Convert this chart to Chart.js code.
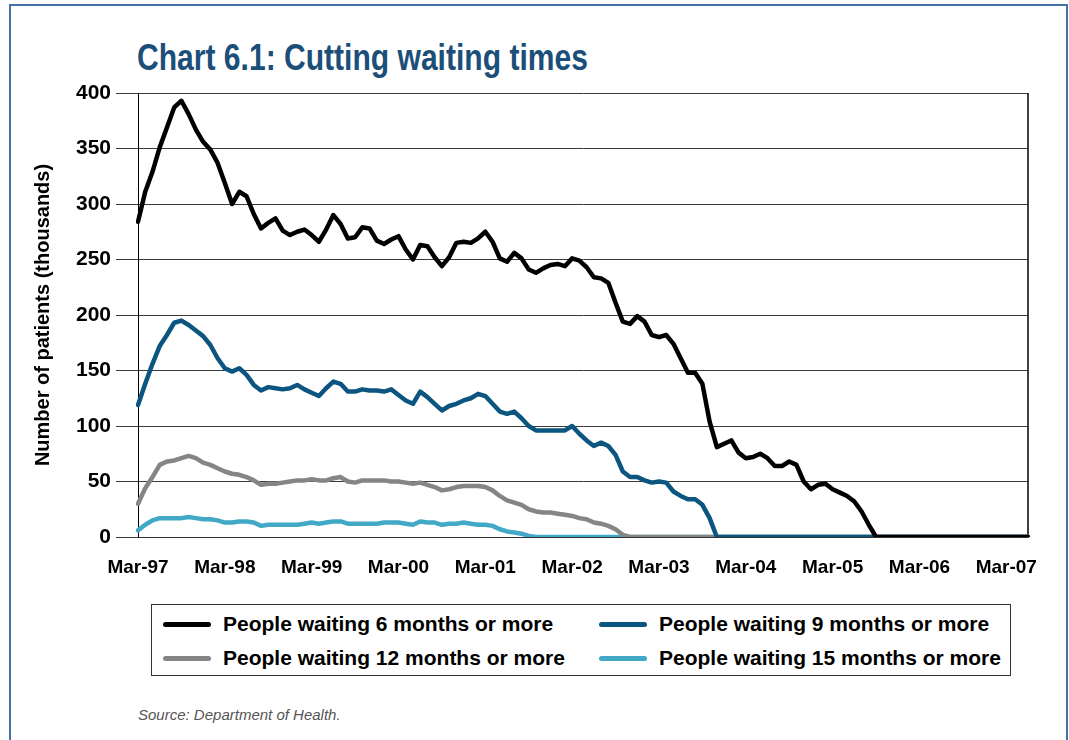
<!DOCTYPE html>
<html>
<head>
<meta charset="utf-8">
<title>Chart 6.1: Cutting waiting times</title>
<script src="https://cdn.jsdelivr.net/npm/chart.js@4.4.1/dist/chart.umd.min.js"></script>
<style>
  html, body { margin: 0; padding: 0; background: #fff; }
  body { width: 1069px; height: 740px; position: relative; overflow: hidden;
         font-family: 'Liberation Sans', Arial, sans-serif; }
  #frame { position: absolute; left: 9px; top: 4px; width: 1055px; height: 800px;
           border: 2px solid #4472a6; }
  #title { position: absolute; left: 137px; top: 37px; white-space: nowrap;
           font-family: 'Liberation Sans', sans-serif;
           font-weight: bold; font-size: 36px; color: #1b4f7a;
           transform: scaleX(0.835); transform-origin: 0 0; }
  #wrap { position: absolute; left: 0; top: 0; width: 1069px; height: 600px; }
  #legend { position: absolute; left: 151px; top: 604px; width: 858px; height: 70px;
            border: 1.5px solid #333; }
  .item { position: absolute; height: 26px; display: flex; align-items: center;
          font-weight: bold; font-size: 21px; color: #000; white-space: nowrap; }
  .swatch { width: 48px; height: 5px; border-radius: 3px; margin-right: 12px; }
  #source { position: absolute; left: 138px; top: 706px; font-style: italic;
            font-size: 15px; color: #555; }
</style>
</head>
<body>
<div id="frame"></div>
<div id="title">Chart 6.1: Cutting waiting times</div>
<div id="wrap"><canvas id="chart" width="1069" height="600"></canvas></div>
<div id="legend"></div>
<div id="source">Source: Department of Health.</div>

<script>
// monthly categories, Mar-97 .. Jun-07
const monthNames = ['Jan','Feb','Mar','Apr','May','Jun','Jul','Aug','Sep','Oct','Nov','Dec'];
const categories = [];
for (let i = 0; i < 124; i++) {
  const d = new Date(1997, 2 + i, 1);
  categories.push(monthNames[d.getMonth()] + '-' + String(d.getFullYear()).slice(2));
}
const tickLabels = ['Mar-97','Mar-98','Mar-99','Mar-00','Mar-01','Mar-02','Mar-03','Mar-04','Mar-05','Mar-06','Mar-07'];
const yTicks = [0, 50, 100, 150, 200, 250, 300, 350, 400];

// thousands of patients
const wait6 = [
  284, 311, 329, 351, 369, 387, 393, 381, 367, 356,
  349, 337, 319, 300, 311, 307, 291, 278, 283, 287,
  276, 272, 275, 277, 272, 266, 277, 290, 282, 269,
  270, 279, 278, 267, 264, 268, 271, 259, 250, 263,
  262, 252, 244, 252, 265, 266, 265, 269, 275, 266,
  251, 248, 256, 251, 241, 238, 242, 245, 246, 244,
  251, 249, 243, 234, 233, 229, 211, 194, 192, 199,
  194, 182, 180, 182, 174, 161, 148, 148, 138, 104,
  81, 84, 87, 76, 71, 72, 75, 71, 64, 64,
  68, 65, 50, 43, 47, 48, 43, 40, 37, 32,
  23, 11, 0, 0, 0, 0, 0, 0, 0, 0,
  0, 0, 0, 0, 0, 0, 0, 0, 0, 0,
  0, 0, 0, 0
];
const wait9 = [
  119, 138, 156, 172, 182, 193, 195, 191, 186, 181,
  173, 161, 152, 149, 152, 146, 137, 132, 135, 134,
  133, 134, 137, 133, 130, 127, 134, 140, 138, 131,
  131, 133, 132, 132, 131, 133, 128, 123, 120, 131,
  126, 120, 114, 118, 120, 123, 125, 129, 127, 120,
  113, 111, 113, 107, 100, 96, 96, 96, 96, 96,
  100, 93, 87, 82, 85, 82, 74, 59, 54, 54,
  51, 49, 50, 49, 41, 37, 34, 34, 29, 17,
  0, 0, 0, 0, 0, 0, 0, 0, 0, 0,
  0, 0, 0, 0, 0, 0, 0, 0, 0, 0,
  0, 0, 0, 0, 0, 0, 0, 0, 0, 0,
  0, 0, 0, 0, 0, 0, 0, 0, 0, 0,
  0, 0, 0, 0
];
const wait12 = [
  30, 44, 54, 65, 68, 69, 71, 73, 71, 67,
  65, 62, 59, 57, 56, 54, 51, 47, 48, 48,
  49, 50, 51, 51, 52, 51, 51, 53, 54, 50,
  49, 51, 51, 51, 51, 50, 50, 49, 48, 49,
  47, 45, 42, 43, 45, 46, 46, 46, 45, 42,
  37, 33, 31, 29, 25, 23, 22, 22, 21, 20,
  19, 17, 16, 13, 12, 10, 7, 2, 0, 0,
  0, 0, 0, 0, 0, 0, 0, 0, 0, 0,
  0, 0, 0, 0, 0, 0, 0, 0, 0, 0,
  0, 0, 0, 0, 0, 0, 0, 0, 0, 0,
  0, 0, 0, 0, 0, 0, 0, 0, 0, 0,
  0, 0, 0, 0, 0, 0, 0, 0, 0, 0,
  0, 0, 0, 0
];
const wait15 = [
  6, 11, 15, 17, 17, 17, 17, 18, 17, 16,
  16, 15, 13, 13, 14, 14, 13, 10, 11, 11,
  11, 11, 11, 12, 13, 12, 13, 14, 14, 12,
  12, 12, 12, 12, 13, 13, 13, 12, 11, 14,
  13, 13, 11, 12, 12, 13, 12, 11, 11, 10,
  7, 5, 4, 3, 1, 0, 0, 0, 0, 0,
  0, 0, 0, 0, 0, 0, 0, 0, 0, 0,
  0, 0, 0, 0, 0, 0, 0, 0, 0, 0,
  0, 0, 0, 0, 0, 0, 0, 0, 0, 0,
  0, 0, 0, 0, 0, 0, 0, 0, 0, 0,
  0, 0, 0, 0, 0, 0, 0, 0, 0, 0,
  0, 0, 0, 0, 0, 0, 0, 0, 0, 0,
  0, 0, 0, 0
];

const seriesNames = [
  'People waiting 6 months or more',
  'People waiting 9 months or more',
  'People waiting 12 months or more',
  'People waiting 15 months or more'
];
const seriesColors = ['#000000', '#0b5580', '#858585', '#41a9c6'];

Chart.defaults.font.family = "'Liberation Sans', Arial, sans-serif";
Chart.defaults.color = '#000';

// right-hand edge of the plot box
const plotEdge = {
  id: 'plotEdge',
  beforeDatasetsDraw(chart) {
    const { ctx, chartArea: a } = chart;
    ctx.save();
    ctx.strokeStyle = '#000';
    ctx.lineWidth = 1.5;
    ctx.beginPath();
    ctx.moveTo(a.right, a.top);
    ctx.lineTo(a.right, a.bottom);
    ctx.stroke();
    ctx.restore();
  }
};

const chart = new Chart(document.getElementById('chart'), {
  type: 'line',
  data: {
    labels: categories,
    datasets: [wait6, wait9, wait12, wait15].map((d, i) => ({
      label: seriesNames[i],
      data: d,
      borderColor: seriesColors[i],
      backgroundColor: seriesColors[i],
      borderWidth: 4.5,
      borderJoinStyle: 'round',
      borderCapStyle: 'round',
      pointRadius: 0,
      tension: 0,
      fill: false
    }))
  },
  options: {
    responsive: false,
    devicePixelRatio: 1,
    animation: false,
    layout: { padding: { top: 93, right: 41, bottom: 13, left: 0 } },
    plugins: { legend: { display: false }, tooltip: { enabled: false } },
    scales: {
      x: {
        type: 'category',
        offset: false,
        grid: { display: false, drawTicks: false },
        border: { display: true, color: '#333', width: 1 },
        afterFit(scale) { scale.height = 50; },
        ticks: {
          autoSkip: false, maxRotation: 0, minRotation: 0, padding: 19,
          font: { size: 19, weight: 'bold' },
          callback(val, i) {
            const lab = categories[i];
            return tickLabels.includes(lab) ? lab : null;
          }
        }
      },
      y: {
        min: 0, max: 400,
        afterFit(scale) { scale.width = 138; },
        afterBuildTicks(scale) { scale.ticks = yTicks.map(v => ({ value: v })); },
        grid: { color: '#3a3a3a', lineWidth: 1, tickLength: 22, drawTicks: true },
        border: { display: true, color: '#000', width: 1 },
        ticks: { padding: 5, font: { size: 21, weight: 'bold' } },
        title: {
          display: true,
          text: 'Number of patients (thousands)',
          font: { size: 20, weight: 'bold' },
          padding: { top: 31, bottom: 0 }
        }
      }
    }
  },
  plugins: [plotEdge]
});

// legend: two columns, two rows, as in the original
const legend = document.getElementById('legend');
const spots = [[11, 6], [447, 6], [11, 40], [447, 40]];
chart.data.datasets.forEach((ds, i) => {
  const it = document.createElement('div');
  it.className = 'item';
  it.style.left = spots[i][0] + 'px';
  it.style.top = spots[i][1] + 'px';
  it.innerHTML = `<span class="swatch" style="background:${ds.borderColor}"></span><span>${ds.label}</span>`;
  legend.appendChild(it);
});
</script>
</body>
</html>
